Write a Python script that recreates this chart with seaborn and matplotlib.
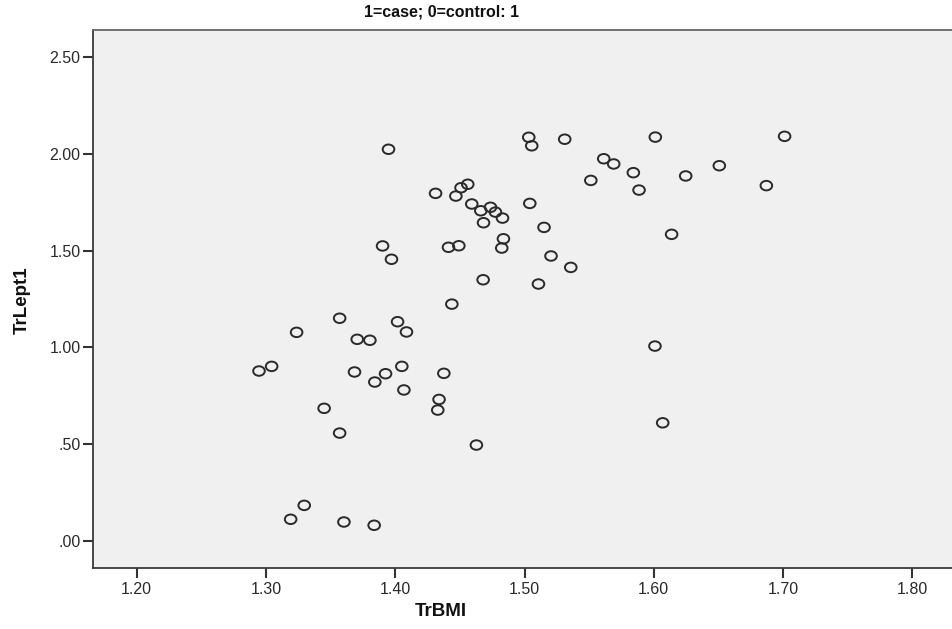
import matplotlib
matplotlib.use("Agg")
import matplotlib.pyplot as plt
from matplotlib.path import Path
from matplotlib.transforms import Affine2D
import seaborn as sns
import pandas as pd

tr_bmi = [1.2946, 1.3044, 1.3237, 1.3570, 1.4018, 1.4087, 1.3706, 1.3804, 1.3685, 1.3925,
          1.3842, 1.4051, 1.4376, 1.4067, 1.4339, 1.4329, 1.3450, 1.3570, 1.4628, 1.4438,
          1.3191, 1.3296, 1.3603, 1.3837,
          1.3948, 1.5033, 1.5056, 1.5311, 1.4312, 1.4469, 1.4509, 1.4561, 1.4592, 1.4662,
          1.4737, 1.4775, 1.4830, 1.4683, 1.5041, 1.5151, 1.3902, 1.3971, 1.4412, 1.4492,
          1.4837, 1.4824, 1.5205, 1.5358, 1.4680, 1.5108,
          1.5613, 1.5690, 1.6012, 1.5513, 1.5842, 1.5886, 1.6138,
          1.7012, 1.6507, 1.6247, 1.6871,
          1.6009, 1.6069]
tr_lept1 = [0.878, 0.902, 1.078, 1.151, 1.133, 1.080, 1.042, 1.037, 0.873, 0.864,
            0.821, 0.902, 0.866, 0.780, 0.731, 0.676, 0.685, 0.557, 0.495, 1.224,
            0.111, 0.183, 0.097, 0.080,
            2.025, 2.087, 2.043, 2.077, 1.797, 1.783, 1.826, 1.844, 1.742, 1.707,
            1.725, 1.700, 1.669, 1.645, 1.745, 1.621, 1.525, 1.456, 1.518, 1.526,
            1.562, 1.514, 1.473, 1.414, 1.350, 1.328,
            1.976, 1.949, 2.088, 1.864, 1.904, 1.814, 1.585,
            2.092, 1.940, 1.887, 1.837,
            1.007, 0.610]

x_ticks = [1.20, 1.30, 1.40, 1.50, 1.60, 1.70, 1.80]
x_tick_labels = ["1.20", "1.30", "1.40", "1.50", "1.60", "1.70", "1.80"]
y_ticks = [0.00, 0.50, 1.00, 1.50, 2.00, 2.50]
y_tick_labels = [".00", ".50", "1.00", "1.50", "2.00", "2.50"]

title_text = "1=case; 0=control: 1"
x_label = "TrBMI"
y_label = "TrLept1"

df = pd.DataFrame({"TrBMI": tr_bmi, "TrLept1": tr_lept1})

sns.set_style("white")
plt.rcParams["font.family"] = ["Liberation Sans", "DejaVu Sans"]

W, H = 952, 629
fig = plt.figure(figsize=(W / 100, H / 100), dpi=100)
ax = fig.add_axes([93 / W, 1 - 568 / H, (W - 93) / W, (568 - 30) / H])
ax.set_facecolor("#F0F0F0")

ellipse_marker = Path.unit_circle().transformed(Affine2D().scale(1.0, 0.82))

sns.scatterplot(data=df, x="TrBMI", y="TrLept1", ax=ax, marker=ellipse_marker, s=70,
                facecolor="none", edgecolor="#2a2a2a", linewidth=1.4, legend=False)

ax.set_xlim(1.1662, 1.8307)
ax.set_ylim(-0.141, 2.642)
ax.set_xticks(x_ticks)
ax.set_xticklabels(x_tick_labels)
ax.set_yticks(y_ticks)
ax.set_yticklabels(y_tick_labels)

for side in ["left", "bottom", "top"]:
    ax.spines[side].set_visible(True)
    ax.spines[side].set_color("#3a3a3a")
    ax.spines[side].set_linewidth(1.3)
ax.spines["top"].set_color("#666666")
ax.spines["right"].set_visible(False)

ax.tick_params(axis="both", which="major", direction="out", length=7, width=1.5,
               color="#333333", labelsize=11.5, labelcolor="#2a2a2a", pad=2,
               bottom=True, left=True, top=False, right=False)
ax.tick_params(axis="x", pad=3)

ax.set_xlabel("")
ax.set_ylabel("")
fig.text(441 / W, 1 - 612 / H, x_label, ha="center", va="center",
         fontsize=13.5, fontweight="bold", color="#111111")
fig.text(22 / W, 1 - 300 / H, y_label, ha="center", va="center", rotation=90,
         fontsize=13.5, fontweight="bold", color="#111111")
fig.text(441.5 / W, 1 - 12 / H, title_text, ha="center", va="center",
         fontsize=11.5, fontweight="bold", color="#111111")

fig.savefig("out.png", dpi=100, facecolor="white")
